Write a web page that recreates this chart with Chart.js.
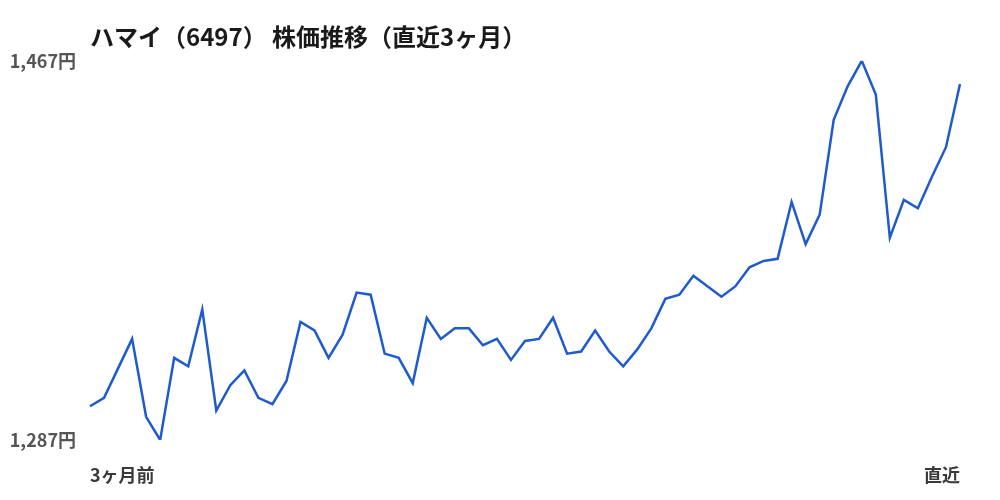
<!DOCTYPE html>
<html>
<head>
<meta charset="utf-8">
<script src="https://cdn.jsdelivr.net/npm/chart.js@4/dist/chart.umd.min.js"></script>
<style>
  html, body { margin: 0; padding: 0; background: #fff; }
  #wrap { position: relative; width: 1000px; height: 500px; }
</style>
</head>
<body>
<div id="wrap"><canvas id="stockChart"></canvas></div>
<script>
// 終値（直近3ヶ月、63営業日）
const prices = [
  1303, 1307, 1321, 1335, 1298, 1287, 1326, 1322, 1349, 1301,
  1313, 1320, 1307, 1304, 1315, 1343, 1339, 1326, 1337, 1357,
  1356, 1328, 1326, 1314, 1345, 1335, 1340, 1340, 1332, 1335,
  1325, 1334, 1335, 1345, 1328, 1329, 1339, 1329, 1322, 1330,
  1340, 1354, 1356, 1365, 1360, 1355, 1360, 1369, 1372, 1373,
  1400, 1380, 1394, 1439, 1455, 1467, 1451, 1383, 1401, 1397,
  1412, 1426, 1456
];
const yTicks = [1287, 1467];
const startLabel = '3ヶ月前';
const endLabel = '直近';
const titleText = 'ハマイ（6497） 株価推移（直近3ヶ月）';

const labels = prices.map((p, i) => i === 0 ? startLabel : (i === prices.length - 1 ? endLabel : ''));

const FONT = '"Noto Sans CJK JP", "Noto Sans", sans-serif';

const ctx = document.getElementById('stockChart').getContext('2d');
new Chart(ctx, {
    type: 'line',
    data: {
        labels: labels,
        datasets: [{
            data: prices,
            borderColor: '#1f5bcc',
            borderWidth: 2.5,
            pointRadius: 0,
            tension: 0,
            fill: false
        }]
    },
    options: {
        responsive: true,
        maintainAspectRatio: false,
        animation: false,
        layout: {
            padding: { top: 10, left: 10, right: 40, bottom: 14 }
        },
        plugins: {
            legend: { display: false },
            tooltip: { enabled: false },
            title: {
                display: true,
                text: titleText,
                align: 'start',
                fullSize: false,
                color: '#1a1a1a',
                font: { family: FONT, size: 24, weight: 'bold' },
                padding: { top: 12, bottom: 10 }
            }
        },
        scales: {
            x: {
                grid: { display: false, drawTicks: false },
                border: { display: false },
                afterFit: function(scale) {
                    scale.height = 46;
                },
                ticks: {
                    autoSkip: false,
                    maxRotation: 0,
                    align: 'inner',
                    padding: 24,
                    color: '#3a3a3a',
                    font: { family: FONT, size: 18, weight: 'bold' }
                }
            },
            y: {
                min: yTicks[0],
                max: yTicks[1],
                grid: { display: false, drawTicks: false },
                border: { display: false },
                afterBuildTicks: function(scale) {
                    scale.ticks = yTicks.map(v => ({ value: v }));
                },
                afterFit: function(scale) {
                    scale.width = 80;
                },
                ticks: {
                    padding: 14,
                    color: '#555',
                    font: { family: FONT, size: 18, weight: 'bold' },
                    callback: function(value) {
                        return value.toLocaleString('ja-JP') + '円';
                    }
                }
            }
        }
    }
});
</script>
</body>
</html>
